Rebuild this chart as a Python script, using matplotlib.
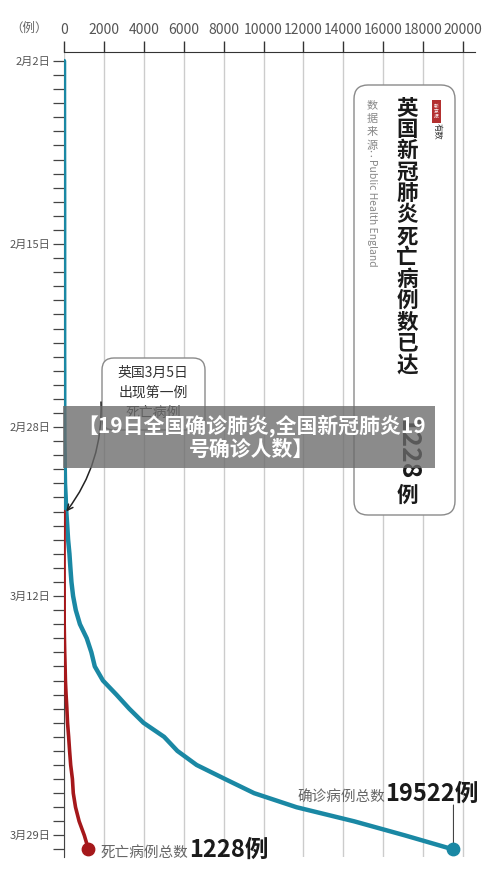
import matplotlib
matplotlib.use('Agg')
import matplotlib.pyplot as plt
import numpy as np
from matplotlib.patches import FancyBboxPatch, Rectangle
from matplotlib.offsetbox import TextArea, HPacker, AnnotationBbox

plt.rcParams['font.family'] = ['Noto Sans CJK SC', 'DejaVu Sans']

# cumulative UK cases, one value per day from 2月2日 to 3月29日
confirmed = [2, 2, 2, 2, 3, 3, 3, 4, 8, 8,
             9, 9, 9, 9, 9, 9, 9, 9, 9, 9, 9, 9,
             13, 13, 13, 15, 20, 23,
             36, 40, 51, 85, 115, 163, 206, 273, 321, 373, 456, 590,
             798, 1140, 1372, 1543, 1950, 2626, 3269, 3983, 5018, 5683,
             6650, 8077, 9529, 11658, 14543, 17089, 19522]
# cumulative deaths, from 3月5日 (day 32) to 3月29日
first_death_day = 32
deaths = [1, 2, 2, 3, 4, 6, 8, 8, 10, 21, 35, 55, 71, 104, 144, 177,
          233, 281, 335, 422, 465, 578, 759, 1019, 1228]

date_ticks = [0, 13, 26, 38, 55]
date_labels = ['2月2日', '2月15日', '2月28日', '3月12日', '3月29日']
case_ticks = [0, 2000, 4000, 6000, 8000, 10000, 12000, 14000, 16000, 18000, 20000]

title_chars = '英国新冠肺炎死亡病例数已达'
callout_lines = ['英国3月5日', '出现第一例', '死亡病例']
banner_text = '【19日全国确诊肺炎,全国新冠肺炎19\n号确诊人数】'

blue = '#1a88a4'
red = '#a5181b'

days = np.arange(len(confirmed))
death_days = np.arange(first_death_day, first_death_day + len(deaths))

fig = plt.figure(figsize=(5, 8.76), dpi=100)
fig.patch.set_facecolor('white')

# main chart, pixel geometry
ax = fig.add_axes([64 / 500, 1 - 857 / 876, 411 / 500, 805 / 876])
px_per_case = 399 / 20000
px_per_day = 14.08
ax.set_xlim(0, 411 / px_per_case)
ax.set_ylim((857 - 61) / px_per_day, (52 - 61) / px_per_day)

for s in ['right', 'bottom']:
    ax.spines[s].set_visible(False)
ax.spines['top'].set_color('#333333')
ax.spines['left'].set_color('#444444')
ax.spines['left'].set_bounds(0, (857 - 61) / px_per_day)

ax.xaxis.tick_top()
ax.set_xticks(case_ticks)
ax.tick_params(axis='x', direction='out', length=8, width=1, color='#333333',
               labelsize=10, labelcolor='#555555', pad=3)
ax.set_yticks(date_ticks)
ax.set_yticklabels(date_labels)
ax.set_yticks(days, minor=True)
ax.tick_params(axis='y', which='both', direction='out', length=8, width=0.9,
               color='#444444', labelsize=8, labelcolor='#555555', pad=2)
ax.grid(axis='x', color='#cccccc', lw=1)
ax.set_axisbelow(True)

ax.plot(confirmed, days, color=blue, lw=3.2, solid_capstyle='round', zorder=3)
ax.plot(deaths, death_days, color=red, lw=2.6, solid_capstyle='round', zorder=4)
ax.scatter([deaths[-1]], [death_days[-1]], s=80, color=red, zorder=5, clip_on=False)
ax.scatter([confirmed[-1]], [days[-1]], s=80, color=blue, zorder=5, clip_on=False)

# end labels
lab_d = HPacker(children=[TextArea('死亡病例总数', textprops=dict(color='#666666', fontsize=10.5)),
                          TextArea(f'{deaths[-1]}例', textprops=dict(color='#1a1a1a', fontsize=17,
                                                                     fontweight='bold'))],
                align='baseline', pad=0, sep=0)
ax.add_artist(AnnotationBbox(lab_d, (deaths[-1], death_days[-1]), xybox=(9, 0),
                             boxcoords='offset points', box_alignment=(0, 0.5),
                             frameon=False, annotation_clip=False))
lab_c = HPacker(children=[TextArea('确诊病例总数', textprops=dict(color='#666666', fontsize=10.5)),
                          TextArea(f'{confirmed[-1]}例', textprops=dict(color='#1a1a1a', fontsize=17,
                                                                        fontweight='bold'))],
                align='baseline', pad=0, sep=0)
ax.add_artist(AnnotationBbox(lab_c, (confirmed[-1], days[-1]), xybox=(18, 40),
                             boxcoords='offset points', box_alignment=(1, 0.5),
                             frameon=False, annotation_clip=False))
ax.annotate('', xy=(confirmed[-1], days[-1]), xytext=(0, 32), textcoords='offset points',
            arrowprops=dict(arrowstyle='-', color='#444444', lw=0.8, shrinkA=0, shrinkB=4))

# overlay in pixel coordinates for boxes and decorations
ov = fig.add_axes([0, 0, 1, 1])
ov.set_xlim(0, 500)
ov.set_ylim(876, 0)
ov.axis('off')
ov.patch.set_alpha(0)

ov.text(29, 28, '（例）', fontsize=9, color='#666666', ha='center', va='center')

# title box
ov.add_patch(FancyBboxPatch((354, 85), 101, 430, boxstyle='round,pad=0,rounding_size=14',
                            fc='white', ec='#8a8a8a', lw=1, zorder=2))
for i, ch in enumerate(title_chars):
    ov.text(407, 108 + i * 21.4, ch, fontsize=15.5, fontweight='bold', color='#1a1a1a',
            ha='center', va='center', zorder=3)
ov.text(407, 449, '1228', rotation=270, fontsize=19, fontweight='bold', color='#1a1a1a',
        ha='center', va='center', zorder=3)
ov.text(407, 495, '例', fontsize=15.5, fontweight='bold', color='#1a1a1a',
        ha='center', va='center', zorder=3)
for i, ch in enumerate('数据来源'):
    ov.text(372, 105 + i * 13.6, ch, fontsize=8, color='#888888', ha='center', va='center', zorder=3)
ov.text(373, 154, '：', fontsize=7, color='#888888', ha='center', va='center', zorder=3)
ov.text(372, 213, 'Public Health England', rotation=270, fontsize=7.5, color='#888888',
        ha='center', va='center', zorder=3)
ov.add_patch(Rectangle((432, 100), 9, 23, fc='#b3302f', ec='none', zorder=3))
ov.text(436.5, 111.5, '新\n京\n报', fontsize=3.5, color='white', ha='center', va='center',
        linespacing=0.9, zorder=4)
ov.text(437, 131, '有数', rotation=270, fontsize=6, color='#333333', ha='center', va='center',
        fontstyle='italic', zorder=3)

# callout for the first death
ov.add_patch(FancyBboxPatch((102, 358), 103, 72, boxstyle='round,pad=0,rounding_size=12',
                            fc='white', ec='#8a8a8a', lw=1, zorder=2))
for i, line in enumerate(callout_lines):
    ov.text(153, 373 + i * 20, line, fontsize=10, color='#333333', ha='center', va='center', zorder=3)
ov.annotate('', xy=(confirmed[first_death_day], first_death_day), xycoords=ax.transData,
            xytext=(101, 402), textcoords='data',
            arrowprops=dict(arrowstyle='->', color='#222222', lw=1.1, shrinkA=0, shrinkB=0,
                            connectionstyle='arc3,rad=-0.18'), zorder=3)

# grey banner
ov.add_patch(Rectangle((63, 406), 372, 62, fc='#6b6b6b', ec='none', alpha=0.78, zorder=6))
ov.text(252, 437, banner_text, fontsize=15, fontweight='bold', color='white', ha='center',
        va='center', linespacing=1.1, zorder=7)

fig.savefig('out.png', dpi=100, facecolor='white')
